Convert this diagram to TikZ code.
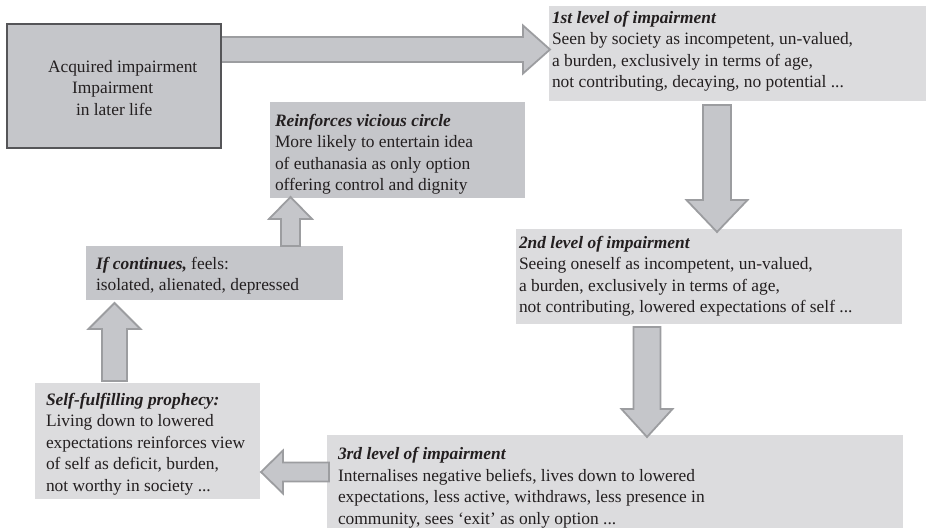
\documentclass[tikz,border=0pt]{standalone}
\usepackage{fontspec}
\setmainfont{Liberation Serif}
\usetikzlibrary{calc}
\definecolor{darkfill}{HTML}{C5C6CA}
\definecolor{lightfill}{HTML}{DCDCDE}
\definecolor{arrowline}{HTML}{9C9DA0}
\definecolor{boxline}{HTML}{555558}
\definecolor{ink}{HTML}{231F20}
\tikzset{
  panel/.style={anchor=north west, inner sep=0pt, outer sep=0pt, draw=none},
  darkpanel/.style={panel, fill=darkfill},
  lightpanel/.style={panel, fill=lightfill},
  txt/.style={anchor=base west, inner sep=0pt, outer sep=0pt, align=left, text=ink,
    font=\fontsize{17.4}{21.5}\selectfont},
  blockarrow/.style={fill=darkfill, draw=arrowline, line width=1.8pt, line join=miter},
}
\newcommand\blkarr[5]{%
  \coordinate (hb) at ($(#2)!#5pt!(#1)$);
  \draw[blockarrow] ($(#1)!#3pt!90:(#2)$) -- ($(hb)!#3pt!-90:(#1)$) -- ($(hb)!#4pt!-90:(#1)$)
    -- (#2) -- ($(hb)!#4pt!90:(#1)$) -- ($(hb)!#3pt!90:(#1)$) -- ($(#1)!#3pt!-90:(#2)$) -- cycle;}
\newcommand\hd[1]{\textbf{\textit{#1}}}
\begin{document}
\begin{tikzpicture}[x=1pt,y=-1pt]
\useasboundingbox (0,0) rectangle (928,528);
% panels
\node[lightpanel, minimum width=377pt, minimum height=95pt] (b1) at (549,6) {};
\node[lightpanel, minimum width=386pt, minimum height=95pt] (b2) at (516,229) {};
\node[lightpanel, minimum width=576pt, minimum height=93pt] (b3) at (327,435) {};
\node[lightpanel, minimum width=225pt, minimum height=116pt] (self) at (35,383) {};
\node[darkpanel, minimum width=257pt, minimum height=54pt] (cont) at (86,246) {};
\node[darkpanel, minimum width=255pt, minimum height=96pt] (reinf) at (270,102) {};
% connector end points
\coordinate (a1s) at ($(b1.north west)+(-328,43.5)$);
\coordinate (a1e) at ($(b1.north west)+(1,43.5)$);
\coordinate (a2s) at ($(b1.south west)+(168,4)$);
\coordinate (a2e) at ($(b2.north west)+(201,3)$);
\coordinate (a3s) at ($(b2.south west)+(131,3)$);
\coordinate (a3e) at ($(b3.north west)+(320,2)$);
\coordinate (a4s) at ($(b3.north west)+(2,37)$);
\coordinate (a4e) at ($(self.north east)+(1,89)$);
\coordinate (a5s) at ($(self.north west)+(79.5,-2)$);
\coordinate (a5e) at ($(cont.south west)+(28.5,3)$);
\coordinate (a6s) at ($(cont.north west)+(204.5,0)$);
\coordinate (a6e) at ($(reinf.south west)+(20.5,-1)$);
% block arrows
\blkarr{a1s}{a1e}{12.5}{24}{27}
\blkarr{a2s}{a2e}{14}{30.5}{32}
\blkarr{a3s}{a3e}{13.5}{25.5}{28}
\blkarr{a4s}{a4e}{9.5}{21.5}{22}
\blkarr{a5s}{a5e}{12.5}{26}{26}
\blkarr{a6s}{a6e}{9.5}{21.5}{22}
% start box
\node[darkpanel, draw=boxline, line width=1.3pt, minimum width=214pt, minimum height=124pt] (b0) at (7,24) {};
% texts (anchor = baseline of last line)
\node[txt] (t0) at (48,115) {Acquired impairment\\\hspace*{24pt}Impairment\\\hspace*{28pt}in later life};
\node[txt] (t1) at (552,87.5) {\hd{1st level of impairment}\\Seen by society as incompetent, un-valued,\\a burden, exclusively in terms of age,\\not contributing, decaying, no potential ...};
\node[txt] (t2) at (519,312.5) {\hd{2nd level of impairment}\\Seeing oneself as incompetent, un-valued,\\a burden, exclusively in terms of age,\\not contributing, lowered expectations of self ...};
\node[txt] (t3) at (338,524) {\hd{3rd level of impairment}\\Internalises negative beliefs, lives down to lowered\\expectations, less active, withdraws, less presence in\\community, sees ‘exit’ as only option ...};
\node[txt] (t4) at (46,491) {\hd{Self-fulfilling prophecy:}\\Living down to lowered\\expectations reinforces view\\of self as deficit, burden,\\not worthy in society ...};
\node[txt] (t5) at (96,290.5) {\hd{If continues,} feels:\\isolated, alienated, depressed};
\node[txt] (t6) at (275,190.5) {\hd{Reinforces vicious circle}\\More likely to entertain idea\\of euthanasia as only option\\offering control and dignity};
\end{tikzpicture}
\end{document}
